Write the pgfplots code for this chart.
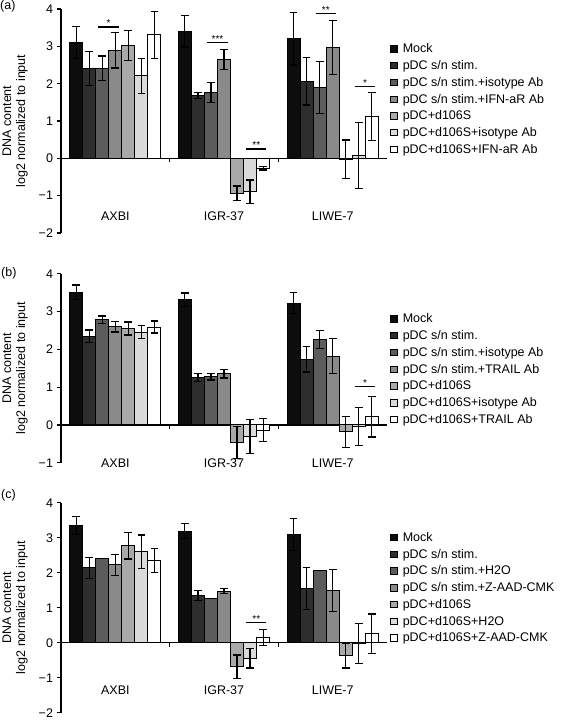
\documentclass[border=0pt]{standalone}
\usepackage{fontspec}
\setmainfont{Liberation Sans}
\usepackage{pgfplots}
\usepackage{pgfplotstable}
\pgfplotsset{compat=1.18}

\definecolor{c1}{HTML}{0D0D0D}
\definecolor{c2}{HTML}{2E2E2E}
\definecolor{c3}{HTML}{5C5C5C}
\definecolor{c4}{HTML}{8A8A8A}
\definecolor{c5}{HTML}{A9A9A9}
\definecolor{c6}{HTML}{DADADA}
\definecolor{c7}{HTML}{FFFFFF}

\newcommand\fs{\fontsize{12.5}{14}\selectfont}
\newcommand\sfs{\fontsize{10}{11}\selectfont}

% rows = cell lines (AXBI, IGR-37, LIWE-7); m = mean, e = error
\pgfplotstableread{
x m1 e1 m2 e2 m3 e3 m4 e4 m5 e5 m6 e6 m7 e7
0 3.11 0.43 2.41 0.45 2.41 0.33 2.89 0.47 3.02 0.40 2.21 0.47 3.31 0.63
1 3.40 0.42 1.69 0.08 1.76 0.27 2.65 0.27 -0.94 0.20 -0.90 0.32 -0.26 0.05
2 3.20 0.70 2.07 0.64 1.90 0.70 2.97 0.73 -0.03 0.52 0.08 0.88 1.12 0.64
}\dataA
\pgfplotstableread{
x m1 e1 m2 e2 m3 e3 m4 e4 m5 e5 m6 e6 m7 e7
0 3.51 0.19 2.35 0.16 2.78 0.10 2.60 0.14 2.55 0.17 2.45 0.17 2.59 0.16
1 3.31 0.18 1.25 0.10 1.28 0.09 1.35 0.11 -0.46 0.42 -0.31 0.45 -0.14 0.30
2 3.22 0.28 1.74 0.34 2.26 0.24 1.82 0.47 -0.18 0.41 -0.04 0.50 0.22 0.54
}\dataB
\pgfplotstableread{
x m1 e1 m2 e2 m3 e3 m4 e4 m5 e5 m6 e6 m7 e7
0 3.35 0.26 2.14 0.30 2.40 0 2.23 0.30 2.77 0.38 2.60 0.48 2.35 0.35
1 3.19 0.22 1.35 0.14 1.26 0 1.47 0.07 -0.69 0.34 -0.44 0.28 0.15 0.22
2 3.10 0.46 1.56 0.60 2.07 0 1.50 0.60 -0.37 0.35 -0.02 0.58 0.26 0.56
}\dataC

\pgfplotsset{
  panel/.style={
    scale only axis, width=326pt,
    xmin=-0.5, xmax=2.5, xtick=\empty,
    enlargelimits=false, clip=false,
    axis y line=left, axis x line=middle,
    axis line style={-, line width=1.3pt, black},
    ybar=0pt, bar width=0.12,
    ytick={-2,-1,0,1,2,3,4},
    tick align=outside, major tick length=4.5pt,
    y tick style={line width=1.2pt, black},
    tick label style={font=\fs},
    ylabel={DNA content\\log2 normalized to input},
    ylabel style={font=\fs, align=center, at={(axis description cs:0,0.5)}, anchor=center, yshift=46pt},
    error bars/y dir=both, error bars/y explicit,
    error bars/error bar style={line width=1.2pt, black},
    error bars/error mark options={rotate=90, mark size=3.9pt, line width=1.2pt, black},
    legend image code/.code={\draw[##1, draw=black, line width=0.9pt] (0pt,-3.2pt) rectangle (6.4pt,3.2pt);},
    legend style={draw=none, fill=none, font=\fs, anchor=north west,
      row sep=2.2pt, inner sep=0pt, cells={anchor=west},
      /tikz/every odd column/.append style={column sep=3pt}},
    legend cell align=left,
  },
  bstyle/.style={draw=black, line width=1pt, fill=#1},
}

\newcommand\sig[4]{% x1, x2, y, stars
  \draw[line width=1.2pt] (axis cs:#1,#3) -- (axis cs:#2,#3);
  \node[font=\sfs, inner sep=0pt, anchor=south] at (axis cs:{(#1+#2)/2},#3) {#4};}

\newcommand\plots[1]{%
  \addplot[bstyle=c1, bar shift=-0.36] table[x=x, y=m1, y error=e1] {#1};
  \addplot[bstyle=c2, bar shift=-0.24] table[x=x, y=m2, y error=e2] {#1};
  \addplot[bstyle=c3, bar shift=-0.12] table[x=x, y=m3, y error=e3] {#1};
  \addplot[bstyle=c4, bar shift=0]     table[x=x, y=m4, y error=e4] {#1};
  \addplot[bstyle=c5, bar shift=0.12]  table[x=x, y=m5, y error=e5] {#1};
  \addplot[bstyle=c6, bar shift=0.24]  table[x=x, y=m6, y error=e6] {#1};
  \addplot[bstyle=c7, bar shift=0.36]  table[x=x, y=m7, y error=e7] {#1};
  \draw[line width=1.2pt] (axis cs:0.5,0) -- ([yshift=-4pt]axis cs:0.5,0);
  \draw[line width=1.2pt] (axis cs:1.5,0) -- ([yshift=-4pt]axis cs:1.5,0);
}

\begin{document}
\begin{tikzpicture}
\path[use as bounding box] (0,0) rectangle (566pt,-725pt);
\node[font=\fs, anchor=west, inner sep=0pt] at (0pt,-6pt) {(a)};
\node[font=\fs, anchor=west, inner sep=0pt] at (1pt,-273pt) {(b)};
\node[font=\fs, anchor=west, inner sep=0pt] at (1pt,-495pt) {(c)};

% ---------------- (a)
\begin{axis}[panel, at={(61pt,-9pt)}, anchor=north west, height=224pt,
  ymin=-2, ymax=4, yticklabels={−2,−1,0,1,2,3,4},
  legend style={at={(axis description cs:1.01,0.855)}}]
\plots{\dataA}
\legend{Mock, pDC s/n stim., pDC s/n stim.+isotype Ab, pDC s/n stim.+IFN-aR Ab, pDC+d106S, pDC+d106S+isotype Ab, pDC+d106S+IFN-aR Ab}
\node[font=\fs] at (axis cs:0,-1.55) {AXBI};
\node[font=\fs] at (axis cs:1,-1.55) {IGR-37};
\node[font=\fs] at (axis cs:2,-1.55) {LIWE-7};
\sig{-0.155}{0.03}{3.52}{*}
\sig{0.845}{1.035}{3.1}{***}
\sig{1.205}{1.39}{0.25}{**}
\sig{1.845}{2.03}{3.87}{**}
\sig{2.205}{2.39}{1.92}{*}
\end{axis}

% ---------------- (b)
\begin{axis}[panel, at={(61pt,-273.7pt)}, anchor=north west, height=189pt,
  ymin=-1, ymax=4, ytick={-1,0,1,2,3,4}, yticklabels={−1,0,1,2,3,4},
  legend style={at={(axis description cs:1.01,0.80)}}]
\plots{\dataB}
\legend{Mock, pDC s/n stim., pDC s/n stim.+isotype Ab, pDC s/n stim.+TRAIL Ab, pDC+d106S, pDC+d106S+isotype Ab, pDC+d106S+TRAIL Ab}
\node[font=\fs] at (axis cs:0,-1.0) {AXBI};
\node[font=\fs] at (axis cs:1,-1.0) {IGR-37};
\node[font=\fs] at (axis cs:2,-1.0) {LIWE-7};
\sig{2.205}{2.39}{1.01}{*}
\end{axis}

% ---------------- (c)
\begin{axis}[panel, at={(61pt,-502.7pt)}, anchor=north west, height=210pt,
  ymin=-2, ymax=4, yticklabels={−2,−1,0,1,2,3,4},
  legend style={at={(axis description cs:1.01,0.87)}}]
\plots{\dataC}
\legend{Mock, pDC s/n stim., pDC s/n stim.+H2O, pDC s/n stim.+Z-AAD-CMK, pDC+d106S, pDC+d106S+H2O, pDC+d106S+Z-AAD-CMK}
\node[font=\fs] at (axis cs:0,-1.35) {AXBI};
\node[font=\fs] at (axis cs:1,-1.35) {IGR-37};
\node[font=\fs] at (axis cs:2,-1.35) {LIWE-7};
\sig{1.205}{1.39}{0.57}{**}
\end{axis}
\end{tikzpicture}
\end{document}
